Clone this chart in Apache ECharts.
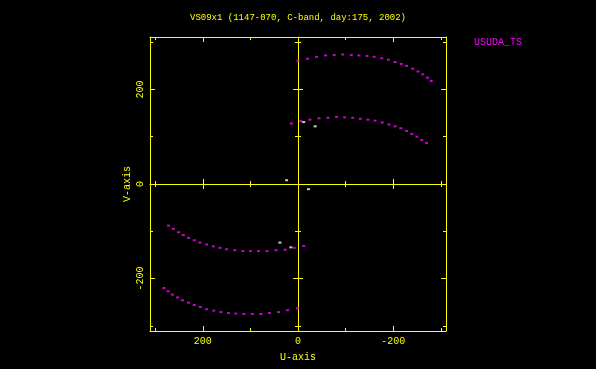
<!DOCTYPE html>
<html>
<head>
<meta charset="utf-8">
<script src="https://cdn.jsdelivr.net/npm/echarts@6/dist/echarts.min.js"></script>
<style>html,body{margin:0;padding:0;background:#000;}#c{width:596px;height:369px;}</style>
</head>
<body>
<div id="c"></div>
<script>
// ---- data ----
var titleText = 'VS09x1 (1147-070, C-band, day:175, 2002)';
var seriesName = 'USUDA_TS';
var majorTicks = [-200, 0, 200];
var minorTicks = [-300, -100, 100, 300];
var zeroMajorTicks = [-200, 200];
var tickLabels = [-200, 0, 200];
var axisRange = [-311, 311];

var upperOuterU = [0,-20,-39,-58,-76,-94,-112,-128,-145,-160,-176,-190,-204,-217,-228,-241,-252,-262,-272,-280];
var upperOuterV = [261,265,269,272,273,274,273,272,271,269,266,263,258,254,250,244,238,232,225,218];
var upperInnerU = [14,-6,-25,-44,-63,-81,-98,-115,-131,-147,-162,-177,-191,-204,-216,-228,-239,-250,-260,-270];
var upperInnerV = [128,133,136,139,140,142,141,140,138,136,134,130,126,122,118,112,106,100,93,87];
var lowerInnerU = [272,262,251,241,230,218,206,192,178,164,150,133,116,100,83,65,46,27,8,-12];
var lowerInnerV = [-88,-95,-102,-108,-114,-119,-124,-128,-132,-135,-138,-140,-142,-142,-142,-142,-140,-139,-135,-131];
var lowerOuterU = [282,273,264,253,243,230,218,205,192,177,162,146,131,114,96,78,60,41,22,1];
var lowerOuterV = [-220,-227,-234,-240,-246,-251,-256,-260,-265,-268,-271,-273,-274,-275,-275,-275,-273,-271,-267,-263];
var whiteU = [24,-22,-12,-36,38,15];
var whiteV = [8,-11,131,122,-124,-134];

// ---- build ----
var YEL = '#ffff00', MAG = '#ff00ff';
var FONT = 'Liberation Mono';
function pairs(us, vs){ return us.map(function(u,i){ return [u, vs[i]]; }); }
var usudaData = [].concat(pairs(upperOuterU,upperOuterV), pairs(upperInnerU,upperInnerV),
                          pairs(lowerInnerU,lowerInnerV), pairs(lowerOuterU,lowerOuterV));
var whiteData = pairs(whiteU, whiteV);

function ax(o){
  var a = {
    type:'value', min:axisRange[0], max:axisRange[1], position:o.pos,
    inverse: !!o.inverse,
    axisLine:{show:!!o.line, onZero:!!o.zero, onZeroAxisIndex:0, lineStyle:{color:YEL,width:1}},
    axisTick:{show:true, inside:o.inside, length:o.len, customValues:o.ticks, lineStyle:{color:YEL,width:1}},
    axisLabel:{show:false},
    splitLine:{show:false}
  };
  if (o.labels){
    a.axisLabel = {show:true, customValues:o.labels, color:YEL, fontFamily:FONT, fontSize:10,
                   margin:o.margin, rotate:o.rotate||0};
  }
  if (o.name){
    a.name = o.name; a.nameLocation='middle'; a.nameGap=o.nameGap; a.nameRotate=o.nameRotate||0;
    a.nameTextStyle = {color:YEL, fontFamily:FONT, fontSize:10};
  }
  return a;
}
function axesFor(inv, p1, p2, lblRot, name, nameGap, nameRot, margin){
  return [
    ax({pos:p1, inverse:inv, line:true, inside:true, len:5, ticks:majorTicks, labels:tickLabels, margin:margin, rotate:lblRot, name:name, nameGap:nameGap, nameRotate:nameRot}),
    ax({pos:p1, inverse:inv, inside:true, len:3, ticks:minorTicks}),
    ax({pos:p2, inverse:inv, line:true, inside:true, len:5, ticks:majorTicks}),
    ax({pos:p2, inverse:inv, inside:true, len:3, ticks:minorTicks}),
    ax({pos:p1, inverse:inv, line:true, zero:true, inside:true, len:5, ticks:zeroMajorTicks}),
    ax({pos:p1, inverse:inv, zero:true, inside:false, len:5, ticks:zeroMajorTicks}),
    ax({pos:p1, inverse:inv, zero:true, inside:true, len:3, ticks:minorTicks}),
    ax({pos:p1, inverse:inv, zero:true, inside:false, len:3, ticks:minorTicks})
  ];
}

var chart = echarts.init(document.getElementById('c'));
chart.setOption({
  backgroundColor:'#000',
  animation:false,
  title:{text:titleText, left:'center', top:8,
         textStyle:{color:YEL, fontFamily:FONT, fontSize:9, fontWeight:'normal'}},
  legend:{data:[{name:seriesName, icon:'none'}], left:464, top:30, itemWidth:0, itemGap:0,
          textStyle:{color:MAG, fontFamily:FONT, fontSize:10}},
  grid:{left:150, right:150, top:37, bottom:38, containLabel:false},
  xAxis: axesFor(true, 'bottom', 'top', 0, 'U-axis', 21, 0, 5),
  yAxis: axesFor(false, 'left', 'right', 90, 'V-axis', 18, 90, 5),
  series:[
    {name:seriesName, type:'scatter', xAxisIndex:0, yAxisIndex:0, data:usudaData,
     symbol:'rect', symbolSize:[3,2], itemStyle:{color:MAG}},
    {name:'other', type:'scatter', xAxisIndex:0, yAxisIndex:0, data:whiteData,
     symbol:'rect', symbolSize:[3,2], itemStyle:{color:'#ffffff'}}
  ]
});
</script>
</body>
</html>
